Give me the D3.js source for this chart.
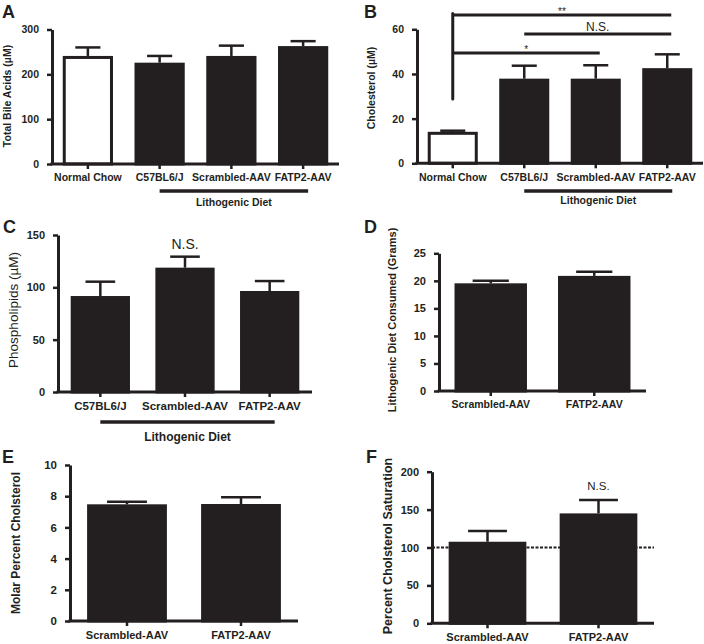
<!DOCTYPE html>
<html>
<head>
<meta charset="utf-8">
<script src="https://cdn.jsdelivr.net/npm/d3@7"></script>
<style>
  html, body { margin: 0; padding: 0; background: #fff; }
  svg { display: block; font-family: "Liberation Sans", Arial, Helvetica, sans-serif; }
</style>
</head>
<body>
<svg id="chart" width="704" height="644"></svg>
<script>
// ---------------- DATA ----------------
// Panel A: Total Bile Acids (µM)
const aCategories = ["Normal Chow", "C57BL6/J", "Scrambled-AAV", "FATP2-AAV"];
const aMeans = [241, 226, 241, 263];
const aErrors = [19, 15, 23, 11];
const aTicks = [0, 100, 200, 300];

// Panel B: Cholesterol (µM)
const bCategories = ["Normal Chow", "C57BL6/J", "Scrambled-AAV", "FATP2-AAV"];
const bMeans = [14.1, 37.9, 37.9, 42.6];
const bErrors = [0.5, 5.8, 6.0, 6.2];
const bTicks = [0, 20, 40, 60];
const bBrackets = [
  { from: "Normal Chow", to: "FATP2-AAV", y: 66.4, label: "**" },
  { from: "C57BL6/J", to: "FATP2-AAV", y: 57.9, label: "N.S." },
  { from: "Normal Chow", to: "Scrambled-AAV", y: 49.4, label: "*" }
];
const bBracketStem = 28.8;

// Panel C: Phospholipids (µM)
const cCategories = ["C57BL6/J", "Scrambled-AAV", "FATP2-AAV"];
const cMeans = [91.7, 118.8, 96.5];
const cErrors = [13.7, 10.5, 9.5];
const cTicks = [0, 50, 100, 150];

// Panel D: Lithogenic Diet Consumed (Grams)
const dCategories = ["Scrambled-AAV", "FATP2-AAV"];
const dMeans = [19.55, 20.9];
const dErrors = [0.45, 0.75];
const dTicks = [0, 5, 10, 15, 20, 25];

// Panel E: Molar Percent Cholsterol
const eCategories = ["Scrambled-AAV", "FATP2-AAV"];
const eMeans = [7.48, 7.5];
const eErrors = [0.17, 0.43];
const eTicks = [0, 2, 4, 6, 8, 10];

// Panel F: Percent Cholsterol Saturation
const fCategories = ["Scrambled-AAV", "FATP2-AAV"];
const fMeans = [107.6, 145];
const fErrors = [14.1, 17.6];
const fTicks = [0, 50, 100, 150, 200];
const fReference = 100;

// ---------------- DRAWING ----------------
const INK = "#231f20";
const svg = d3.select("#chart");

function panel(cfg) {
  const g = svg.append("g");
  const x = d3.scaleBand().domain(cfg.categories).range([cfg.x0, cfg.x1])
    .paddingInner(0.3).paddingOuter(0.15);
  const y = d3.scaleLinear().domain([0, cfg.ymax]).range([cfg.yBottom, cfg.yTop]);
  const bw = x.bandwidth();
  const cx = c => x(c) + bw / 2;

  // panel letter
  g.append("text").attr("x", cfg.letter[0]).attr("y", cfg.letter[1])
    .attr("font-size", 18).attr("font-weight", "bold").attr("fill", INK).text(cfg.letterText);

  // reference dashed line (behind bars)
  if (cfg.refLine !== undefined) {
    g.append("line").attr("x1", cfg.x0).attr("x2", cfg.x1)
      .attr("y1", y(cfg.refLine)).attr("y2", y(cfg.refLine))
      .attr("stroke", INK).attr("stroke-width", 2).attr("stroke-dasharray", "3,1.5");
  }

  // error bars
  const data = cfg.categories.map((c, i) => ({ c, m: cfg.means[i], e: cfg.errors[i], fill: cfg.fills ? cfg.fills[i] : INK }));
  const capW = bw * 0.5;
  g.selectAll(".eb").data(data).enter().append("line")
    .attr("x1", d => cx(d.c)).attr("x2", d => cx(d.c))
    .attr("y1", d => y(d.m)).attr("y2", d => y(d.m + d.e))
    .attr("stroke", INK).attr("stroke-width", 2.5);
  g.selectAll(".cap").data(data).enter().append("line")
    .attr("x1", d => cx(d.c) - capW / 2).attr("x2", d => cx(d.c) + capW / 2)
    .attr("y1", d => y(d.m + d.e)).attr("y2", d => y(d.m + d.e))
    .attr("stroke", INK).attr("stroke-width", 2.5);

  // bars
  g.selectAll(".bar").data(data).enter().append("rect")
    .attr("x", d => x(d.c) + 1.5).attr("width", bw - 3)
    .attr("y", d => y(d.m) + 1.5).attr("height", d => y(0) - y(d.m) - 1.5)
    .attr("fill", d => d.fill).attr("stroke", INK).attr("stroke-width", 3);

  // y axis
  const ya = g.append("g").attr("transform", `translate(${cfg.x0},0)`)
    .call(d3.axisLeft(y).tickValues(cfg.ticks).tickSize(5).tickSizeOuter(0).tickPadding(cfg.yPad || 8));
  ya.select(".domain").attr("stroke", INK).attr("stroke-width", 3);
  ya.selectAll(".tick line").attr("stroke", INK).attr("stroke-width", 2.5);
  ya.selectAll(".tick text").attr("font-size", cfg.yFont).attr("font-weight", "bold")
    .attr("fill", INK).attr("font-family", null);

  // x axis
  const xa = g.append("g").attr("transform", `translate(0,${cfg.yBottom})`)
    .call(d3.axisBottom(x).tickSize(5).tickSizeOuter(0).tickPadding(cfg.xPad || 5));
  xa.select(".domain").attr("stroke", INK).attr("stroke-width", 3)
    .attr("d", `M${cfg.x0 - 1.5},0H${cfg.x1}`);
  xa.selectAll(".tick line").attr("stroke", INK).attr("stroke-width", 2.5);
  xa.selectAll(".tick text").attr("font-size", cfg.xFont).attr("font-weight", "bold")
    .attr("fill", INK).attr("font-family", null);

  // y title
  g.append("text").attr("transform", `translate(${cfg.title[0]},${cfg.title[1]}) rotate(-90)`)
    .attr("text-anchor", "middle").attr("font-size", cfg.titleFont)
    .attr("font-weight", cfg.titleBold === false ? "normal" : "bold").attr("fill", INK)
    .text(cfg.titleText);

  // group line (Lithogenic Diet)
  if (cfg.group) {
    const gx0 = cx(cfg.group.from), gx1 = cx(cfg.group.to) + 5;
    g.append("line").attr("x1", gx0).attr("x2", gx1)
      .attr("y1", cfg.group.lineY).attr("y2", cfg.group.lineY)
      .attr("stroke", INK).attr("stroke-width", 3.5);
    g.append("text").attr("x", (gx0 + gx1) / 2).attr("y", cfg.group.textY)
      .attr("text-anchor", "middle").attr("font-size", cfg.group.font)
      .attr("font-weight", "bold").attr("fill", INK).text(cfg.group.label);
  }

  // text annotation over a bar
  if (cfg.ns) {
    g.append("text").attr("x", cx(cfg.ns.cat)).attr("y", cfg.ns.y)
      .attr("text-anchor", "middle").attr("font-size", cfg.ns.font)
      .attr("fill", INK).text(cfg.ns.label);
  }
  return { g, x, y, cx };
}

// Panel A
panel({
  categories: aCategories, means: aMeans, errors: aErrors, ticks: aTicks, ymax: 300,
  fills: ["#ffffff", INK, INK, INK],
  x0: 52, x1: 339, yTop: 29.5, yBottom: 164,
  letter: [2, 18], letterText: "A",
  yFont: 10.5, xFont: 10.5, titleFont: 10.5,
  title: [11, 96], titleText: "Total Bile Acids (\u00b5M)",
  group: { from: "C57BL6/J", to: "FATP2-AAV", lineY: 191, textY: 206, font: 10.5, label: "Lithogenic Diet" }
});

// Panel B
const pb = panel({
  categories: bCategories, means: bMeans, errors: bErrors, ticks: bTicks, ymax: 60,
  fills: ["#ffffff", INK, INK, INK],
  x0: 417, x1: 703, yTop: 29.3, yBottom: 163.3,
  letter: [364, 18], letterText: "B",
  yFont: 10.5, xFont: 10.5, titleFont: 10.5,
  title: [375, 88], titleText: "Cholesterol (\u00b5M)",
  group: { from: "C57BL6/J", to: "FATP2-AAV", lineY: 191, textY: 204, font: 10.5, label: "Lithogenic Diet" }
});
// significance brackets in B
(function () {
  const { g, y, cx } = pb;
  const stemX = cx(bCategories[0]);
  g.append("line").attr("x1", stemX).attr("x2", stemX)
    .attr("y1", y(bBracketStem)).attr("y2", y(d3.max(bBrackets, d => d.y)) - 1.5)
    .attr("stroke", INK).attr("stroke-width", 3).attr("stroke-linecap", "round");
  bBrackets.forEach(b => {
    const xa = cx(b.from), xb = cx(b.to) + 4;
    g.append("line").attr("x1", xa).attr("x2", xb).attr("y1", y(b.y)).attr("y2", y(b.y))
      .attr("stroke", INK).attr("stroke-width", 3);
    const star = b.label.indexOf("*") >= 0;
    g.append("text").attr("x", (xa + xb) / 2).attr("y", y(b.y) - (star ? 2 : 3) + (star ? 2 : 0))
      .attr("text-anchor", "middle").attr("font-size", star ? 10 : 12)
      .attr("fill", INK).text(b.label);
  });
})();

// Panel C
panel({
  categories: cCategories, means: cMeans, errors: cErrors, ticks: cTicks, ymax: 150,
  x0: 58, x1: 312, yTop: 235, yBottom: 392,
  letter: [3, 233], letterText: "C",
  yFont: 11, xFont: 11.5, titleFont: 13.5, titleBold: false,
  title: [18, 310], titleText: "Phospholipids (\u00b5M)",
  group: { from: "C57BL6/J", to: "FATP2-AAV", lineY: 422, textY: 441, font: 12, label: "Lithogenic Diet" },
  ns: { cat: "Scrambled-AAV", y: 249, font: 14, label: "N.S." }
});

// Panel D
panel({
  categories: dCategories, means: dMeans, errors: dErrors, ticks: dTicks, ymax: 25,
  x0: 439, x1: 646, yTop: 253.3, yBottom: 391,
  letter: [364, 233], letterText: "D",
  yFont: 11, xFont: 10.5, titleFont: 11,
  title: [396, 320], titleText: "Lithogenic Diet Consumed (Grams)"
});

// Panel E
panel({
  categories: eCategories, means: eMeans, errors: eErrors, ticks: eTicks, ymax: 10,
  x0: 70, x1: 298, yTop: 465, yBottom: 621,
  letter: [2, 463], letterText: "E",
  yFont: 11.5, xFont: 11, titleFont: 12,
  title: [20, 543], titleText: "Molar Percent Cholsterol"
});

// Panel F
panel({
  categories: fCategories, means: fMeans, errors: fErrors, ticks: fTicks, ymax: 200,
  x0: 432, x1: 654, yTop: 471.7, yBottom: 623.3,
  letter: [366, 463], letterText: "F",
  yFont: 11, xFont: 11, titleFont: 12.5,
  title: [392, 546], titleText: "Percent Cholsterol Saturation",
  refLine: fReference,
  ns: { cat: "FATP2-AAV", y: 490, font: 11.5, label: "N.S." }
});
</script>
</body>
</html>
